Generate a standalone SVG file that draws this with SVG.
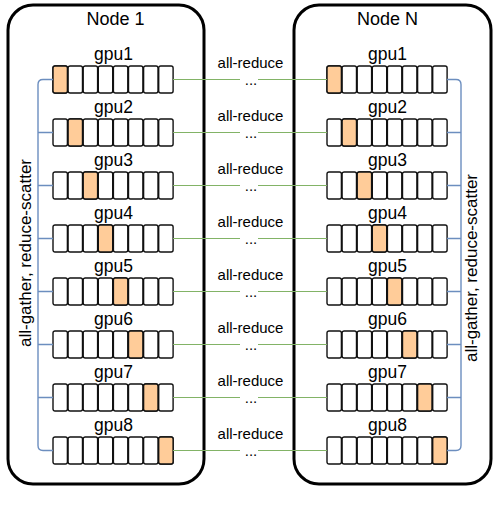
<svg xmlns="http://www.w3.org/2000/svg" xmlns:xlink="http://www.w3.org/1999/xlink" width="499" height="507" viewBox="0 0 499 507">
<style>
.box{fill:#fff;stroke:#000;stroke-width:3}
.cell{fill:#fff;stroke:#111;stroke-width:1.4}
.hot{fill:#ffcc99;stroke:#111;stroke-width:1.4}
.t{font-family:"Liberation Sans",Arial,sans-serif;fill:#000;text-anchor:middle}
.title{font-size:18px}
.gpu{font-size:17.5px}
.ar{font-size:15px}
.vt{font-size:17px}
.g{fill:none;stroke:#82b366;stroke-width:1.2}
.b{fill:none;stroke:#6c8ebf;stroke-width:1.4}
</style>
<defs>
<g id="cells">
<rect class="cell" x="0" y="0" width="14.4" height="27" rx="2"/>
<rect class="cell" x="15.1" y="0" width="14.4" height="27" rx="2"/>
<rect class="cell" x="30.2" y="0" width="14.4" height="27" rx="2"/>
<rect class="cell" x="45.3" y="0" width="14.4" height="27" rx="2"/>
<rect class="cell" x="60.4" y="0" width="14.4" height="27" rx="2"/>
<rect class="cell" x="75.5" y="0" width="14.4" height="27" rx="2"/>
<rect class="cell" x="90.6" y="0" width="14.4" height="27" rx="2"/>
<rect class="cell" x="105.7" y="0" width="14.4" height="27" rx="2"/>
</g>
</defs>
<rect width="499" height="507" fill="#fff"/>
<g id="node1">
<rect class="box" x="8" y="5" width="196" height="479" rx="25"/>
<text class="t title" x="115.5" y="25">Node 1</text>
<g id="n1-gpu1"><text class="t gpu" x="113.5" y="59.5">gpu1</text><use href="#cells" x="53" y="66"/><rect class="hot" x="53" y="66" width="14.4" height="27" rx="2"/></g>
<g id="n1-gpu2"><text class="t gpu" x="113.5" y="112.5">gpu2</text><use href="#cells" x="53" y="119"/><rect class="hot" x="68.1" y="119" width="14.4" height="27" rx="2"/></g>
<g id="n1-gpu3"><text class="t gpu" x="113.5" y="165.5">gpu3</text><use href="#cells" x="53" y="172"/><rect class="hot" x="83.2" y="172" width="14.4" height="27" rx="2"/></g>
<g id="n1-gpu4"><text class="t gpu" x="113.5" y="218.5">gpu4</text><use href="#cells" x="53" y="225"/><rect class="hot" x="98.3" y="225" width="14.4" height="27" rx="2"/></g>
<g id="n1-gpu5"><text class="t gpu" x="113.5" y="271.5">gpu5</text><use href="#cells" x="53" y="278"/><rect class="hot" x="113.4" y="278" width="14.4" height="27" rx="2"/></g>
<g id="n1-gpu6"><text class="t gpu" x="113.5" y="324.5">gpu6</text><use href="#cells" x="53" y="331"/><rect class="hot" x="128.5" y="331" width="14.4" height="27" rx="2"/></g>
<g id="n1-gpu7"><text class="t gpu" x="113.5" y="377.5">gpu7</text><use href="#cells" x="53" y="384"/><rect class="hot" x="143.6" y="384" width="14.4" height="27" rx="2"/></g>
<g id="n1-gpu8"><text class="t gpu" x="113.5" y="430.5">gpu8</text><use href="#cells" x="53" y="437"/><rect class="hot" x="158.7" y="437" width="14.4" height="27" rx="2"/></g>
<text class="t vt" transform="translate(31,253) rotate(-90)">all-gather, reduce-scatter</text>
</g>
<g id="nodeN">
<rect class="box" x="294" y="5" width="197" height="479" rx="25"/>
<text class="t title" x="387.5" y="25">Node N</text>
<g id="nN-gpu1"><text class="t gpu" x="387.5" y="59.5">gpu1</text><use href="#cells" x="327" y="66"/><rect class="hot" x="327" y="66" width="14.4" height="27" rx="2"/></g>
<g id="nN-gpu2"><text class="t gpu" x="387.5" y="112.5">gpu2</text><use href="#cells" x="327" y="119"/><rect class="hot" x="342.1" y="119" width="14.4" height="27" rx="2"/></g>
<g id="nN-gpu3"><text class="t gpu" x="387.5" y="165.5">gpu3</text><use href="#cells" x="327" y="172"/><rect class="hot" x="357.2" y="172" width="14.4" height="27" rx="2"/></g>
<g id="nN-gpu4"><text class="t gpu" x="387.5" y="218.5">gpu4</text><use href="#cells" x="327" y="225"/><rect class="hot" x="372.3" y="225" width="14.4" height="27" rx="2"/></g>
<g id="nN-gpu5"><text class="t gpu" x="387.5" y="271.5">gpu5</text><use href="#cells" x="327" y="278"/><rect class="hot" x="387.4" y="278" width="14.4" height="27" rx="2"/></g>
<g id="nN-gpu6"><text class="t gpu" x="387.5" y="324.5">gpu6</text><use href="#cells" x="327" y="331"/><rect class="hot" x="402.5" y="331" width="14.4" height="27" rx="2"/></g>
<g id="nN-gpu7"><text class="t gpu" x="387.5" y="377.5">gpu7</text><use href="#cells" x="327" y="384"/><rect class="hot" x="417.6" y="384" width="14.4" height="27" rx="2"/></g>
<g id="nN-gpu8"><text class="t gpu" x="387.5" y="430.5">gpu8</text><use href="#cells" x="327" y="437"/><rect class="hot" x="432.7" y="437" width="14.4" height="27" rx="2"/></g>
<text class="t vt" transform="translate(477,268) rotate(-90)">all-gather, reduce-scatter</text>
</g>
<g id="connectors">
<path class="b" d="M53,79.5 H43 Q38,79.5 38,84.5 V445.5 Q38,450.5 43,450.5 H53 M38,132.5 H53 M38,185.5 H53 M38,238.5 H53 M38,291.5 H53 M38,344.5 H53 M38,397.5 H53"/>
<path class="b" d="M447,79.5 H456 Q461,79.5 461,84.5 V445.5 Q461,450.5 456,450.5 H447 M461,132.5 H447 M461,185.5 H447 M461,238.5 H447 M461,291.5 H447 M461,344.5 H447 M461,397.5 H447"/>
<path class="g" d="M173,79.5 H240 M258,79.5 H327 M173,132.5 H240 M258,132.5 H327 M173,185.5 H240 M258,185.5 H327 M173,238.5 H240 M258,238.5 H327 M173,291.5 H240 M258,291.5 H327 M173,344.5 H240 M258,344.5 H327 M173,397.5 H240 M258,397.5 H327 M173,450.5 H240 M258,450.5 H327"/>
<g class="t ar">
<text x="250.5" y="67.5">all-reduce</text><text x="251" y="84.5">...</text>
<text x="250.5" y="120.5">all-reduce</text><text x="251" y="137.5">...</text>
<text x="250.5" y="173.5">all-reduce</text><text x="251" y="190.5">...</text>
<text x="250.5" y="226.5">all-reduce</text><text x="251" y="243.5">...</text>
<text x="250.5" y="279.5">all-reduce</text><text x="251" y="296.5">...</text>
<text x="250.5" y="332.5">all-reduce</text><text x="251" y="349.5">...</text>
<text x="250.5" y="385.5">all-reduce</text><text x="251" y="402.5">...</text>
<text x="250.5" y="438.5">all-reduce</text><text x="251" y="455.5">...</text>
</g>
</g>
</svg>
